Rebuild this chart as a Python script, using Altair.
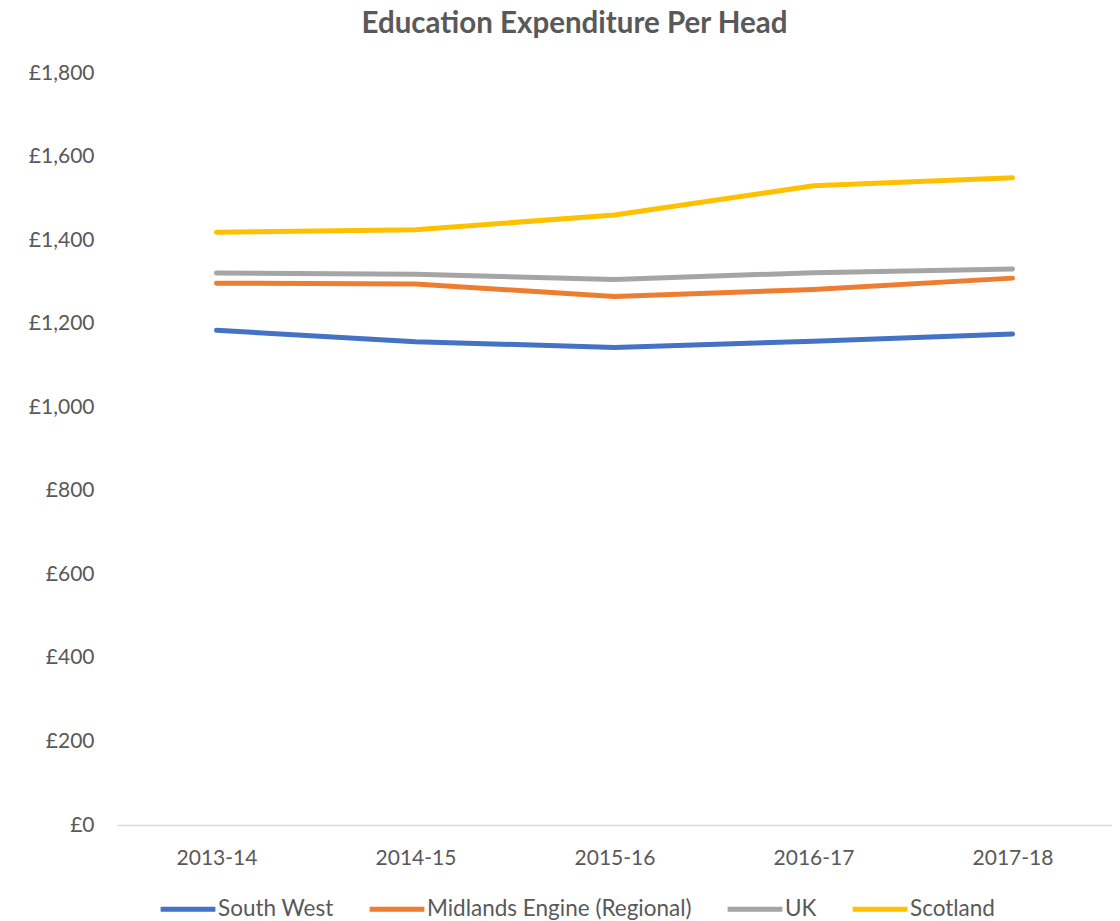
import altair as alt
import pandas as pd

years = ["2013-14", "2014-15", "2015-16", "2016-17", "2017-18"]
series_names = ["South West", "Midlands Engine (Regional)", "UK", "Scotland"]
south_west = [1184, 1157, 1143, 1158, 1175]
midlands = [1297, 1295, 1265, 1282, 1309]
uk = [1321, 1318, 1306, 1322, 1331]
scotland = [1419, 1425, 1460, 1530, 1549]
colors = ["#4472C4", "#ED7D31", "#A5A5A5", "#FFC000"]
y_ticks = [0, 200, 400, 600, 800, 1000, 1200, 1400, 1600, 1800]

rows = []
for name, vals in zip(series_names, [south_west, midlands, uk, scotland]):
    for yr, v in zip(years, vals):
        rows.append({"Year": yr, "Series": name, "Value": v})
df = pd.DataFrame(rows)

FONT = "Lato"
TXT = "#595959"

chart = alt.Chart(df).mark_line(strokeWidth=5, strokeCap="round", strokeJoin="round").encode(
    x=alt.X("Year:N", sort=years, title=None,
            scale=alt.Scale(type="point", padding=0.5),
            axis=alt.Axis(labelAngle=0, ticks=False, tickSize=0, grid=False,
                          domainColor="#D9D9D9", domainWidth=1.5,
                          labelPadding=22, labelFontSize=21, labelColor=TXT, labelFont=FONT)),
    y=alt.Y("Value:Q", title=None,
            scale=alt.Scale(domain=[0, 1800], nice=False),
            axis=alt.Axis(values=y_ticks, labelExpr='"£" + format(datum.value, ",")',
                          ticks=False, tickSize=0, domain=False, grid=False,
                          labelPadding=23, labelFontSize=21, labelColor=TXT, labelFont=FONT)),
    color=alt.Color("Series:N", sort=series_names,
                    scale=alt.Scale(domain=series_names, range=colors),
                    legend=alt.Legend(title=None, orient="none", direction="horizontal",
                                      legendX=41, legendY=806,
                                      symbolType="stroke", symbolSize=3000, symbolStrokeWidth=5,
                                      labelFontSize=22.5, labelColor=TXT, labelFont=FONT,
                                      labelLimit=500, labelOffset=0, columnPadding=25)),
    order=alt.Order("Year:N"),
).properties(
    width=995, height=752,
    background="white",
    title=alt.TitleParams("Education Expenditure Per Head", fontSize=29.5, fontWeight="bold",
                          color=TXT, font=FONT, anchor="middle", dx=-40, offset=23),
    padding={"left": 109, "top": 65, "right": 0, "bottom": 96},
    autosize=alt.AutoSizeParams(type="none"),
).configure_view(strokeWidth=0)

chart.save("out.html", embed_options={"renderer": "svg", "actions": False})
